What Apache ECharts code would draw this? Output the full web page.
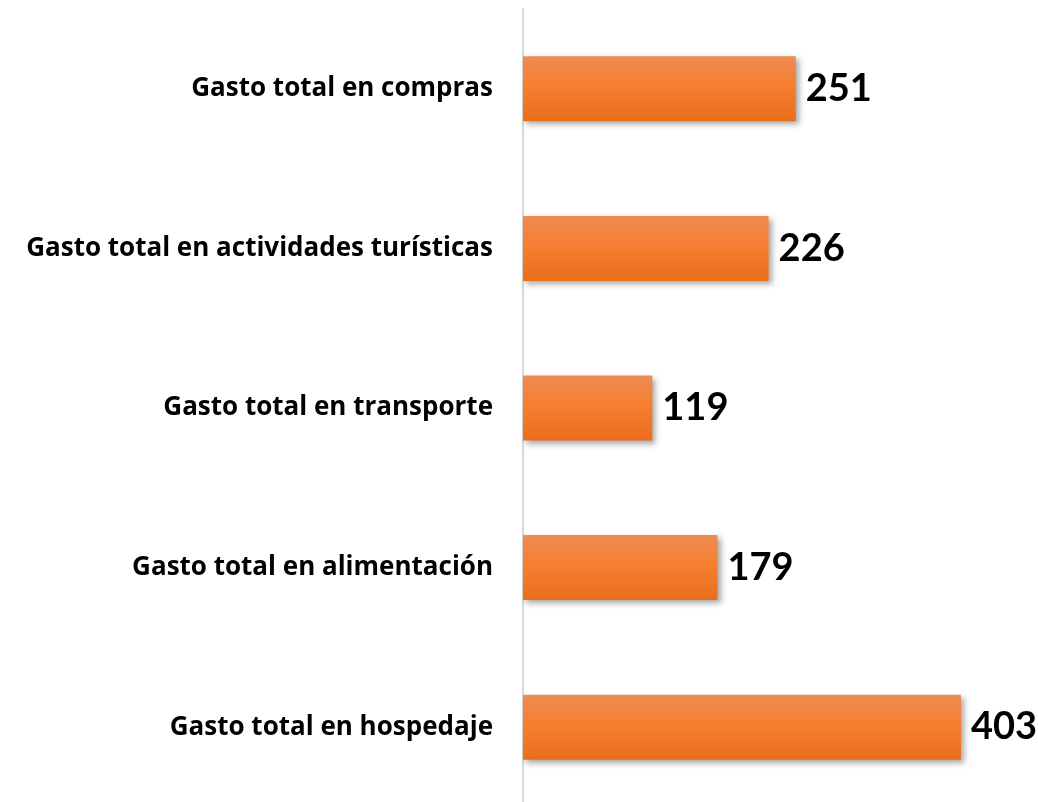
<!DOCTYPE html>
<html>
<head>
<meta charset="utf-8">
<script src="https://cdn.jsdelivr.net/npm/echarts@6/dist/echarts.min.js"></script>
<style>
  html, body { margin: 0; padding: 0; background: #fff; }
  #chart { width: 1038px; height: 802px; }
</style>
</head>
<body>
<div id="chart"></div>
<script>
// categorías (de abajo hacia arriba, como en el eje)
const categories = [
  'Gasto total en hospedaje',
  'Gasto total en alimentación',
  'Gasto total en transporte',
  'Gasto total en actividades turísticas',
  'Gasto total en compras'
]
// valores de gasto
const values = [403, 179, 119, 226, 251]

const myChart = echarts.init(document.getElementById('chart'))
const option = {
  animation: false,
  grid: {
    left: 523,
    top: 9,
    width: 489,
    height: 798,
    // el eje sigue por debajo del borde inferior
    outerBoundsMode: 'none'
  },
  xAxis: {
    type: 'value',
    min: 0,
    max: 450,
    show: false
  },
  yAxis: {
    type: 'category',
    data: categories,
    axisLine: {
      show: true,
      lineStyle: { color: '#d9d9d9', width: 2 }
    },
    axisTick: { show: false },
    axisLabel: {
      margin: 30,
      color: '#000',
      fontFamily: 'Open Sans',
      fontWeight: 'bold',
      fontSize: 26
    }
  },
  series: [
    {
      type: 'bar',
      data: values,
      barWidth: 65,
      itemStyle: {
        color: new echarts.graphic.LinearGradient(0, 0, 0, 1, [
          { offset: 0, color: '#f08c52' },
          { offset: 0.5, color: '#f47d2e' },
          { offset: 1, color: '#e96e1c' }
        ]),
        shadowColor: 'rgba(0, 0, 0, 0.35)',
        shadowBlur: 6,
        shadowOffsetX: 3,
        shadowOffsetY: 3
      },
      label: {
        show: true,
        position: 'right',
        distance: 10,
        color: '#000',
        fontFamily: 'Lato',
        fontWeight: 'bold',
        fontSize: 38
      }
    }
  ]
}
myChart.setOption(option)
</script>
</body>
</html>
